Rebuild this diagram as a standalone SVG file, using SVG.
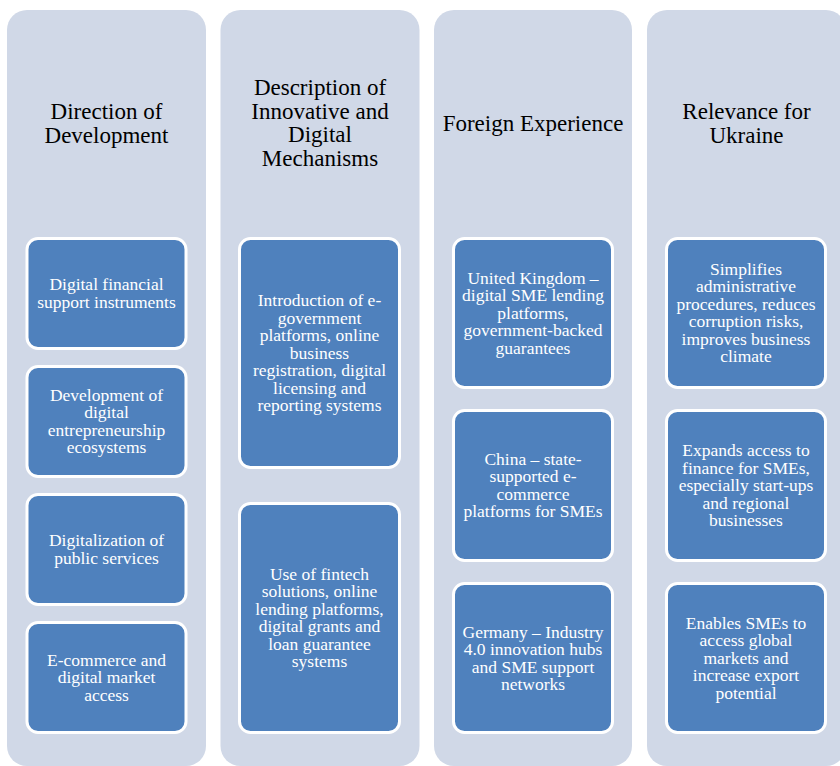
<svg xmlns="http://www.w3.org/2000/svg" width="840" height="766" viewBox="0 0 840 766">
  <style>
    .col { fill: #D0D8E7; }
    .box { fill: #4F81BD; stroke: #FFFFFF; stroke-width: 3; }
    .head { font-family: 'Liberation Serif', 'Times New Roman', Times, 'DejaVu Serif', serif; font-size: 23px; fill: #000000; text-anchor: middle; }
    .txt { font-family: 'Liberation Serif', 'Times New Roman', Times, 'DejaVu Serif', serif; font-size: 17.5px; fill: #FFFFFF; text-anchor: middle; }
  </style>
  <rect width="840" height="766" fill="#FFFFFF"/>

  <!-- Column 1: Direction of Development -->
  <g id="col-direction">
    <rect class="col" x="7" y="10" width="199" height="756" rx="20"/>
    <text class="head" x="106.5" y="119"><tspan x="106.5">Direction of</tspan><tspan x="106.5" dy="23.5">Development</tspan></text>
  </g>
  <g id="dir-1">
    <rect class="box" x="27" y="238.5" width="159" height="110" rx="11"/>
    <text class="txt" x="106.5" y="290.3"><tspan x="106.5">Digital financial</tspan><tspan x="106.5" dy="17.5">support instruments</tspan></text>
  </g>
  <g id="dir-2">
    <rect class="box" x="27" y="366.5" width="159" height="110" rx="11"/>
    <text class="txt" x="106.5" y="400.7"><tspan x="106.5">Development of</tspan><tspan x="106.5" dy="17.5">digital</tspan><tspan x="106.5" dy="17.5">entrepreneurship</tspan><tspan x="106.5" dy="17.5">ecosystems</tspan></text>
  </g>
  <g id="dir-3">
    <rect class="box" x="27" y="494.5" width="159" height="110" rx="11"/>
    <text class="txt" x="106.5" y="546.3"><tspan x="106.5">Digitalization of</tspan><tspan x="106.5" dy="17.5">public services</tspan></text>
  </g>
  <g id="dir-4">
    <rect class="box" x="27" y="622.5" width="159" height="110" rx="11"/>
    <text class="txt" x="106.5" y="665.5"><tspan x="106.5">E-commerce and</tspan><tspan x="106.5" dy="17.5">digital market</tspan><tspan x="106.5" dy="17.5">access</tspan></text>
  </g>

  <!-- Column 2: Description of Innovative and Digital Mechanisms -->
  <g id="col-description">
    <rect class="col" x="220.5" y="10" width="199" height="756" rx="20"/>
    <text class="head" x="320" y="95.3"><tspan x="320">Description of</tspan><tspan x="320" dy="23.5">Innovative and</tspan><tspan x="320" dy="23.5">Digital</tspan><tspan x="320" dy="23.5">Mechanisms</tspan></text>
  </g>
  <g id="desc-1">
    <rect class="box" x="239.5" y="238.5" width="160" height="229" rx="11"/>
    <text class="txt" x="319.5" y="306"><tspan x="319.5">Introduction of e-</tspan><tspan x="319.5" dy="17.5">government</tspan><tspan x="319.5" dy="17.5">platforms, online</tspan><tspan x="319.5" dy="17.5">business</tspan><tspan x="319.5" dy="17.5">registration, digital</tspan><tspan x="319.5" dy="17.5">licensing and</tspan><tspan x="319.5" dy="17.5">reporting systems</tspan></text>
  </g>
  <g id="desc-2">
    <rect class="box" x="239.5" y="503.5" width="160" height="229" rx="11"/>
    <text class="txt" x="319.5" y="579.8"><tspan x="319.5">Use of fintech</tspan><tspan x="319.5" dy="17.5">solutions, online</tspan><tspan x="319.5" dy="17.5">lending platforms,</tspan><tspan x="319.5" dy="17.5">digital grants and</tspan><tspan x="319.5" dy="17.5">loan guarantee</tspan><tspan x="319.5" dy="17.5">systems</tspan></text>
  </g>

  <!-- Column 3: Foreign Experience -->
  <g id="col-foreign">
    <rect class="col" x="434" y="10" width="198" height="756" rx="20"/>
    <text class="head" x="533" y="131">Foreign Experience</text>
  </g>
  <g id="foreign-uk">
    <rect class="box" x="453.5" y="238.5" width="159" height="149" rx="11"/>
    <text class="txt" x="533" y="283.5"><tspan x="533">United Kingdom –</tspan><tspan x="533" dy="17.5">digital SME lending</tspan><tspan x="533" dy="17.5">platforms,</tspan><tspan x="533" dy="17.5">government-backed</tspan><tspan x="533" dy="17.5">guarantees</tspan></text>
  </g>
  <g id="foreign-china">
    <rect class="box" x="453.5" y="410.5" width="159" height="150" rx="11"/>
    <text class="txt" x="533" y="464.8"><tspan x="533">China – state-</tspan><tspan x="533" dy="17.5">supported e-</tspan><tspan x="533" dy="17.5">commerce</tspan><tspan x="533" dy="17.5">platforms for SMEs</tspan></text>
  </g>
  <g id="foreign-germany">
    <rect class="box" x="453.5" y="583.5" width="159" height="149" rx="11"/>
    <text class="txt" x="533" y="637.8"><tspan x="533">Germany – Industry</tspan><tspan x="533" dy="17.5">4.0 innovation hubs</tspan><tspan x="533" dy="17.5">and SME support</tspan><tspan x="533" dy="17.5">networks</tspan></text>
  </g>

  <!-- Column 4: Relevance for Ukraine -->
  <g id="col-relevance">
    <rect class="col" x="647" y="10" width="199" height="756" rx="20"/>
    <text class="head" x="746.5" y="119"><tspan x="746.5">Relevance for</tspan><tspan x="746.5" dy="23.5">Ukraine</tspan></text>
  </g>
  <g id="rel-1">
    <rect class="box" x="666.5" y="238.5" width="159" height="149" rx="11"/>
    <text class="txt" x="746" y="274.8"><tspan x="746">Simplifies</tspan><tspan x="746" dy="17.5">administrative</tspan><tspan x="746" dy="17.5">procedures, reduces</tspan><tspan x="746" dy="17.5">corruption risks,</tspan><tspan x="746" dy="17.5">improves business</tspan><tspan x="746" dy="17.5">climate</tspan></text>
  </g>
  <g id="rel-2">
    <rect class="box" x="666.5" y="410.5" width="159" height="150" rx="11"/>
    <text class="txt" x="746" y="456"><tspan x="746">Expands access to</tspan><tspan x="746" dy="17.5">finance for SMEs,</tspan><tspan x="746" dy="17.5">especially start-ups</tspan><tspan x="746" dy="17.5">and regional</tspan><tspan x="746" dy="17.5">businesses</tspan></text>
  </g>
  <g id="rel-3">
    <rect class="box" x="666.5" y="583.5" width="159" height="149" rx="11"/>
    <text class="txt" x="746" y="628.5"><tspan x="746">Enables SMEs to</tspan><tspan x="746" dy="17.5">access global</tspan><tspan x="746" dy="17.5">markets and</tspan><tspan x="746" dy="17.5">increase export</tspan><tspan x="746" dy="17.5">potential</tspan></text>
  </g>

  <g id="connectors"/>
</svg>
